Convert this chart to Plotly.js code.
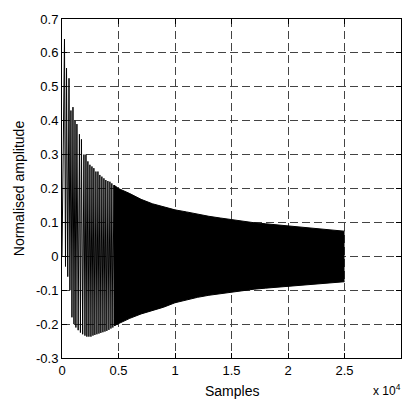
<!DOCTYPE html>
<html>
<head>
<meta charset="utf-8">
<script src="https://cdn.plot.ly/plotly-3.0.1.min.js"></script>
<style>html,body{margin:0;padding:0;background:#fff;}#chart{width:403px;height:403px;}</style>
</head>
<body>
<div id="chart"></div>
<script>
// Early, resolvable oscillation: positive peaks (sample, amplitude)
const peakSamples = [220, 400, 620, 790, 970, 1150, 1320, 1540, 1720, 1940, 2120, 2290, 2470, 2650, 2820, 3000, 3180, 3350, 3530, 3710, 3880, 4060, 4240, 4410, 4590, 4770];
const peakValues  = [0.641, 0.555, 0.525, 0.43, 0.44, 0.40, 0.39, 0.36, 0.345, 0.30, 0.30, 0.28, 0.27, 0.265, 0.26, 0.25, 0.25, 0.24, 0.235, 0.23, 0.225, 0.222, 0.22, 0.215, 0.21, 0.205];
// Early negative troughs (sample, amplitude)
const troughSamples = [0, 310, 510, 700, 880, 1060, 1230, 1430, 1630, 1830, 2030, 2200, 2380, 2560, 2740, 2910, 3090, 3270, 3440, 3620, 3800, 3970, 4150, 4330, 4500, 4680, 4860];
const troughValues  = [0.0, -0.03, -0.06, -0.10, -0.18, -0.20, -0.21, -0.218, -0.225, -0.23, -0.234, -0.237, -0.237, -0.237, -0.234, -0.232, -0.23, -0.228, -0.226, -0.224, -0.222, -0.22, -0.217, -0.213, -0.21, -0.205, -0.2];
// Dense part: envelope of the oscillation (too dense to resolve single cycles)
const envSamples = [4600, 5000, 6000, 7000, 8000, 9000, 10000, 11000, 12000, 13000, 14000, 15000, 16000, 17000, 18000, 19000, 20000, 21000, 22000, 23000, 24000, 25000];
const envUpper   = [0.21, 0.200, 0.185, 0.168, 0.155, 0.146, 0.137, 0.131, 0.124, 0.118, 0.113, 0.108, 0.103, 0.099, 0.096, 0.093, 0.090, 0.087, 0.084, 0.080, 0.077, 0.074];
const envLower   = [-0.205, -0.198, -0.183, -0.170, -0.160, -0.150, -0.137, -0.128, -0.121, -0.115, -0.110, -0.105, -0.100, -0.097, -0.094, -0.091, -0.089, -0.086, -0.083, -0.080, -0.078, -0.075];
// Axis ticks
const xTickVals  = [0, 5000, 10000, 15000, 20000, 25000, 30000];
const xTickText  = ['0', '0.5', '1', '1.5', '2', '2.5', '3'];
const yTickVals  = [-0.3, -0.2, -0.1, 0, 0.1, 0.2, 0.3, 0.4, 0.5, 0.6, 0.7];
const yTickText  = ['-0.3', '-0.2', '-0.1', '0', '0.1', '0.2', '0.3', '0.4', '0.5', '0.6', '0.7'];

// Interleave troughs and peaks into one signal path
const sigX = [], sigY = [];
for (let i = 0; i < troughSamples.length; i++) {
  sigX.push(troughSamples[i]); sigY.push(troughValues[i]);
  if (i < peakSamples.length) { sigX.push(peakSamples[i]); sigY.push(peakValues[i]); }
}

const FONT = 'Liberation Sans, Arial, sans-serif';
const traces = [
  {x: envSamples, y: envLower, mode: 'lines', line: {color: '#000', width: 1}, hoverinfo: 'skip', showlegend: false},
  {x: envSamples, y: envUpper, mode: 'lines', fill: 'tonexty', fillcolor: '#000', line: {color: '#000', width: 1}, hoverinfo: 'skip', showlegend: false},
  {x: sigX, y: sigY, mode: 'lines', line: {color: '#000', width: 1}, showlegend: false}
];

const gridStyle = {showgrid: true, gridcolor: '#444', gridwidth: 1, griddash: '8px,4px'};
const layout = {
  width: 403, height: 403,
  margin: {l: 62, r: 2, t: 19, b: 45, pad: 0},
  paper_bgcolor: '#fff', plot_bgcolor: '#fff',
  font: {family: FONT, size: 13, color: '#000'},
  showlegend: false,
  xaxis: Object.assign({
    range: [0, 30000], tickmode: 'array', tickvals: xTickVals, ticktext: xTickText,
    ticks: 'inside', ticklen: 5, tickcolor: '#000', showline: true, linecolor: '#000', linewidth: 1,
    mirror: 'ticks', zeroline: false, tickfont: {family: FONT, size: 13},
    title: {text: ''}
  }, gridStyle),
  yaxis: Object.assign({
    range: [-0.3, 0.7], tickmode: 'array', tickvals: yTickVals, ticktext: yTickText,
    ticks: 'inside', ticklen: 5, tickcolor: '#000', showline: true, linecolor: '#000', linewidth: 1,
    mirror: 'ticks', zeroline: false, tickfont: {family: FONT, size: 13},
    title: {text: 'Normalised amplitude', font: {family: FONT, size: 14}}
  }, gridStyle),
  annotations: [
    {xref: 'paper', yref: 'paper', x: 0.5, y: -0.097, xanchor: 'center', yanchor: 'middle',
     text: 'Samples', showarrow: false, font: {family: FONT, size: 14, color: '#000'}},
    {xref: 'paper', yref: 'paper', x: 1.005, y: -0.123, xanchor: 'right', yanchor: 'bottom',
     text: 'x 10<sup>4</sup>', showarrow: false, font: {family: FONT, size: 12, color: '#000'}}
  ]
};
Plotly.newPlot('chart', traces, layout, {displayModeBar: false, staticPlot: true});
</script>
</body>
</html>
